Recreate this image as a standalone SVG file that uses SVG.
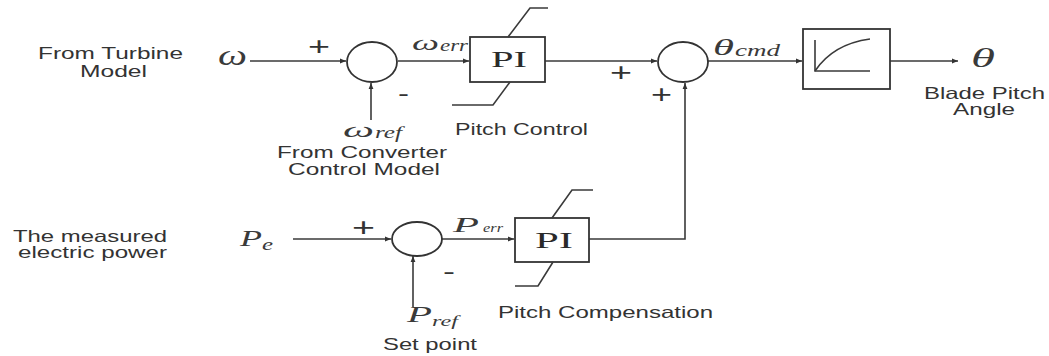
<svg xmlns="http://www.w3.org/2000/svg" width="1049" height="356" viewBox="0 0 1049 356">
<defs>
<style>
.ln{fill:none;stroke:#3a3a3a;stroke-width:1.6}
.blk{fill:#fff;stroke:#333;stroke-width:1.8}
.lbl{font-family:"Liberation Sans",Arial,sans-serif;font-size:16.5px;fill:#333}
.mth{font-family:"Liberation Serif","Times New Roman",serif;font-style:italic;fill:#3a3a3a}
.sgn{font-family:"Liberation Sans",Arial,sans-serif;fill:#333}
.pi{font-family:"Liberation Serif","Times New Roman",serif;font-size:24px;fill:#2a2a2a}
</style>
<marker id="ar" viewBox="0 0 10 10" refX="10" refY="5" markerWidth="7" markerHeight="6" orient="auto" markerUnits="userSpaceOnUse">
<path d="M0,1 L10,5 L0,9 z" fill="#333"/>
</marker>
</defs>
<rect width="1049" height="356" fill="#fff"/>

<g id="connectors">
<path class="ln" d="M250,61 H346" marker-end="url(#ar)"/>
<path class="ln" d="M371,120 V83" marker-end="url(#ar)"/>
<path class="ln" d="M398,61 H469" marker-end="url(#ar)"/>
<path class="ln" d="M545,61 H657" marker-end="url(#ar)"/>
<path class="ln" d="M708,61 H802" marker-end="url(#ar)"/>
<path class="ln" d="M890,61 H958" marker-end="url(#ar)"/>
<path class="ln" d="M293,239 H391" marker-end="url(#ar)"/>
<path class="ln" d="M413,307 V256" marker-end="url(#ar)"/>
<path class="ln" d="M442,239 H514" marker-end="url(#ar)"/>
<path class="ln" d="M589,239 H685 V83" marker-end="url(#ar)"/>
</g>

<g id="input-omega">
<text class="lbl" x="38" y="59" textLength="145" lengthAdjust="spacingAndGlyphs">From Turbine</text>
<text class="lbl" x="80" y="77" textLength="67" lengthAdjust="spacingAndGlyphs">Model</text>
<text class="mth" x="218" y="65" font-size="30" textLength="29" lengthAdjust="spacingAndGlyphs">ω</text>
<text class="sgn" x="308" y="55" font-size="26" textLength="22" lengthAdjust="spacingAndGlyphs">+</text>
</g>

<g id="sum1">
<ellipse class="blk" cx="372" cy="62" rx="25" ry="20"/>
<text class="sgn" x="398" y="101" font-size="22" textLength="11" lengthAdjust="spacingAndGlyphs">-</text>
</g>

<g id="input-omega-ref">
<text class="mth" x="343" y="137" font-size="22" textLength="31" lengthAdjust="spacingAndGlyphs">ω</text>
<text class="mth" x="375" y="138" font-size="16" textLength="27" lengthAdjust="spacingAndGlyphs">ref</text>
<text class="lbl" x="277" y="158" textLength="170" lengthAdjust="spacingAndGlyphs">From Converter</text>
<text class="lbl" x="288" y="175" textLength="152" lengthAdjust="spacingAndGlyphs">Control Model</text>
</g>

<g id="pi-control">
<text class="mth" x="412" y="50" font-size="22" textLength="27" lengthAdjust="spacingAndGlyphs">ω</text>
<text class="mth" x="440" y="51" font-size="16" textLength="28" lengthAdjust="spacingAndGlyphs">err</text>
<rect class="blk" x="470" y="37" width="75" height="45"/>
<text class="pi" x="491" y="67" textLength="36" lengthAdjust="spacingAndGlyphs">PI</text>
<path class="ln" d="M508,37 L530,8 H548"/>
<path class="ln" d="M510,82 L493,105 H452"/>
<text class="lbl" x="455" y="135" textLength="133" lengthAdjust="spacingAndGlyphs">Pitch Control</text>
</g>

<g id="sum2">
<ellipse class="blk" cx="683" cy="62" rx="25" ry="20"/>
<text class="sgn" x="610" y="81" font-size="26" textLength="22" lengthAdjust="spacingAndGlyphs">+</text>
<text class="sgn" x="651" y="103" font-size="26" textLength="21" lengthAdjust="spacingAndGlyphs">+</text>
<text class="mth" x="713" y="55" font-size="23" textLength="21" lengthAdjust="spacingAndGlyphs">θ</text>
<text class="mth" x="735" y="56" font-size="16" textLength="45" lengthAdjust="spacingAndGlyphs">cmd</text>
</g>

<g id="actuator">
<rect class="blk" x="803" y="29" width="87" height="60"/>
<path class="ln" d="M815,40 V71 H870"/>
<path class="ln" d="M815,71 Q833,44 870,39"/>
</g>

<g id="output-theta">
<text class="mth" x="971" y="67" font-size="27" textLength="24" lengthAdjust="spacingAndGlyphs">θ</text>
<text class="lbl" x="924" y="99" textLength="121" lengthAdjust="spacingAndGlyphs">Blade Pitch</text>
<text class="lbl" x="953" y="115" textLength="62" lengthAdjust="spacingAndGlyphs">Angle</text>
</g>

<g id="input-pe">
<text class="lbl" x="13" y="242" textLength="154" lengthAdjust="spacingAndGlyphs">The measured</text>
<text class="lbl" x="18" y="258" textLength="149" lengthAdjust="spacingAndGlyphs">electric power</text>
<text class="mth" x="240" y="246" font-size="24" textLength="22" lengthAdjust="spacingAndGlyphs">P</text>
<text class="mth" x="262" y="250" font-size="17" textLength="11" lengthAdjust="spacingAndGlyphs">e</text>
<text class="sgn" x="352" y="236" font-size="26" textLength="23" lengthAdjust="spacingAndGlyphs">+</text>
</g>

<g id="sum3">
<ellipse class="blk" cx="417" cy="239" rx="25" ry="17"/>
<text class="sgn" x="443" y="279" font-size="22" textLength="12" lengthAdjust="spacingAndGlyphs">-</text>
</g>

<g id="input-pref">
<text class="mth" x="407" y="322" font-size="24" textLength="25" lengthAdjust="spacingAndGlyphs">P</text>
<text class="mth" x="432" y="326" font-size="15" textLength="26" lengthAdjust="spacingAndGlyphs">ref</text>
<text class="lbl" x="383" y="350" textLength="94" lengthAdjust="spacingAndGlyphs">Set point</text>
</g>

<g id="pi-compensation">
<text class="mth" x="453" y="232" font-size="22" textLength="26" lengthAdjust="spacingAndGlyphs">P</text>
<text class="mth" x="483" y="232" font-size="13" textLength="20" lengthAdjust="spacingAndGlyphs">err</text>
<rect class="blk" x="515" y="218" width="74" height="44"/>
<text class="pi" x="535" y="248" textLength="38" lengthAdjust="spacingAndGlyphs">PI</text>
<path class="ln" d="M552,218 L572,190 H593"/>
<path class="ln" d="M553,262 L538,286 H515"/>
<text class="lbl" x="498" y="318" textLength="215" lengthAdjust="spacingAndGlyphs">Pitch Compensation</text>
</g>
</svg>
